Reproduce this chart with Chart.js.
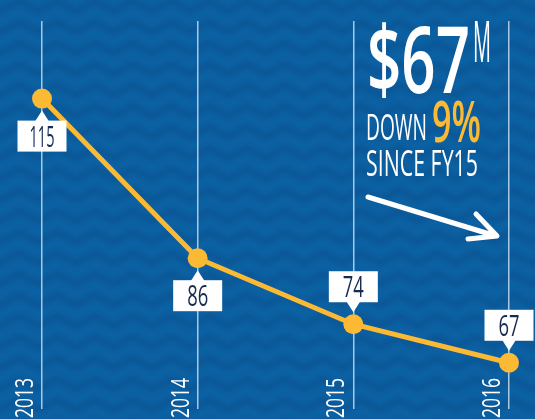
<!DOCTYPE html>
<html>
<head>
<meta charset="utf-8">
<script src="https://cdn.jsdelivr.net/npm/chart.js@4"></script>
<style>
  html, body { margin: 0; padding: 0; background: #0b62a5; }
  #wrap { width: 535px; height: 419px; position: relative; }
</style>
</head>
<body>
<div id="wrap"><canvas id="budgetChart"></canvas></div>
<script>
// Fiscal years and budget ($M)
const years = ['2013', '2014', '2015', '2016'];
const budget = [115, 86, 74, 67];
// Which side of the point the value box sits on
const labelSide = ['below', 'below', 'above', 'above'];
// Value axis range (hidden)
const yMin = 58.6;
const yMax = 129.1;

const headline = '$67';
const headlineUnit = 'M';
const changeWord = 'DOWN';
const changePct = '9%';
const sinceText = 'SINCE FY15';

const navy = '#172a4f';
const gold = '#fbb934';
const face = "'Open Sans', 'DejaVu Sans', sans-serif";

// draw text squeezed horizontally to a given width (mimics the narrow hand lettering)
function fitText(c, text, x, y, width, size, weight) {
    c.save();
    c.font = (weight || '') + ' ' + size + 'px ' + face;
    const w = c.measureText(text).width;
    c.translate(x, y);
    c.scale(width / w, 1);
    c.fillText(text, 0, 0);
    c.restore();
}

// Blue zigzag background
const backgroundPlugin = {
    id: 'zigzagBackground',
    beforeDraw(chart) {
        const c = chart.ctx;
        const w = chart.width, h = chart.height;
        c.save();
        c.fillStyle = '#0c61a3';
        c.fillRect(0, 0, w, h);
        c.filter = 'blur(2.5px)';
        c.strokeStyle = 'rgba(5, 40, 90, 0.18)';
        c.lineWidth = 6;
        c.lineJoin = 'miter';
        const period = 38, amp = 10, rowGap = 21;
        for (let y = -20; y < h + 20; y += rowGap) {
            c.beginPath();
            c.moveTo(-period, y + amp);
            for (let x = -period; x < w + period; x += period) {
                c.lineTo(x + period / 2, y);
                c.lineTo(x + period, y + amp);
            }
            c.stroke();
        }
        c.filter = 'none';
        c.restore();
    }
};

// Value boxes, year labels and headline text
const annotationPlugin = {
    id: 'annotations',
    afterDatasetsDraw(chart) {
        const c = chart.ctx;
        const xs = chart.scales.x;
        const meta = chart.getDatasetMeta(0);
        c.save();

        // value boxes with pointers
        meta.data.forEach((pt, i) => {
            const bw = 49, bh = 31, gap = 12, tri = 7;
            let top;
            c.fillStyle = '#ffffff';
            c.beginPath();
            if (labelSide[i] === 'below') {
                top = pt.y + gap + 10;
                c.moveTo(pt.x, pt.y + gap);
                c.lineTo(pt.x - tri, top + 1);
                c.lineTo(pt.x + tri, top + 1);
            } else {
                top = pt.y - gap - 10 - bh;
                c.moveTo(pt.x, pt.y - gap);
                c.lineTo(pt.x - tri, top + bh - 1);
                c.lineTo(pt.x + tri, top + bh - 1);
            }
            c.fill();
            let left = pt.x - bw / 2;
            if (left + bw > chart.width - 1) left = chart.width - 1 - bw;
            c.fillRect(left, top, bw, bh);
            c.fillStyle = navy;
            c.textAlign = 'left';
            c.textBaseline = 'alphabetic';
            const txt = String(budget[i]);
            const tw = txt.length === 3 ? 25 : 21;
            fitText(c, txt, left + (bw - tw) / 2, top + bh - 5, tw, 30);
        });

        // rotated year labels at the bottom
        years.forEach((yr, i) => {
            const x = xs.getPixelForValue(i) - 9;
            c.save();
            c.translate(x, chart.height - 1);
            c.rotate(-Math.PI / 2);
            c.fillStyle = '#ffffff';
            c.textAlign = 'left';
            c.textBaseline = 'alphabetic';
            fitText(c, yr, 0, 0, 40, 25);
            c.restore();
        });

        // headline
        c.fillStyle = '#ffffff';
        c.textBaseline = 'alphabetic';
        c.textAlign = 'left';
        fitText(c, headline, 367, 93, 103, 92, '600');
        fitText(c, headlineUnit, 473, 62, 18, 56);
        fitText(c, changeWord, 366, 140, 61, 36);
        c.fillStyle = gold;
        fitText(c, changePct, 432, 142, 49, 58, '600');
        c.fillStyle = '#ffffff';
        fitText(c, sinceText, 366, 176, 112, 36);

        // arrow
        c.strokeStyle = '#ffffff';
        c.lineWidth = 5;
        c.lineCap = 'round';
        c.lineJoin = 'round';
        c.beginPath();
        c.moveTo(368, 197);
        c.lineTo(496, 236);
        c.moveTo(476, 214);
        c.lineTo(497, 236);
        c.lineTo(468, 239);
        c.stroke();

        c.restore();
    }
};

const ctx = document.getElementById('budgetChart').getContext('2d');
const budgetChart = new Chart(ctx, {
    type: 'line',
    data: {
        labels: years,
        datasets: [{
            data: budget,
            borderColor: gold,
            backgroundColor: gold,
            borderWidth: 5,
            pointRadius: 10,
            pointBackgroundColor: gold,
            pointBorderWidth: 0,
            tension: 0,
            clip: false
        }]
    },
    options: {
        responsive: true,
        maintainAspectRatio: false,
        animation: false,
        layout: { padding: { left: 42, right: 26, top: 21, bottom: 0 } },
        scales: {
            x: {
                offset: false,
                border: { display: false },
                grid: { color: 'rgba(200, 220, 240, 0.85)', lineWidth: 1.5, drawTicks: false },
                ticks: { display: false, padding: 0 },
                afterFit(scale) { scale.height = 0; }
            },
            y: {
                display: false,
                min: yMin,
                max: yMax
            }
        },
        plugins: {
            legend: { display: false },
            tooltip: { enabled: false }
        }
    },
    plugins: [backgroundPlugin, annotationPlugin]
});
</script>
</body>
</html>
